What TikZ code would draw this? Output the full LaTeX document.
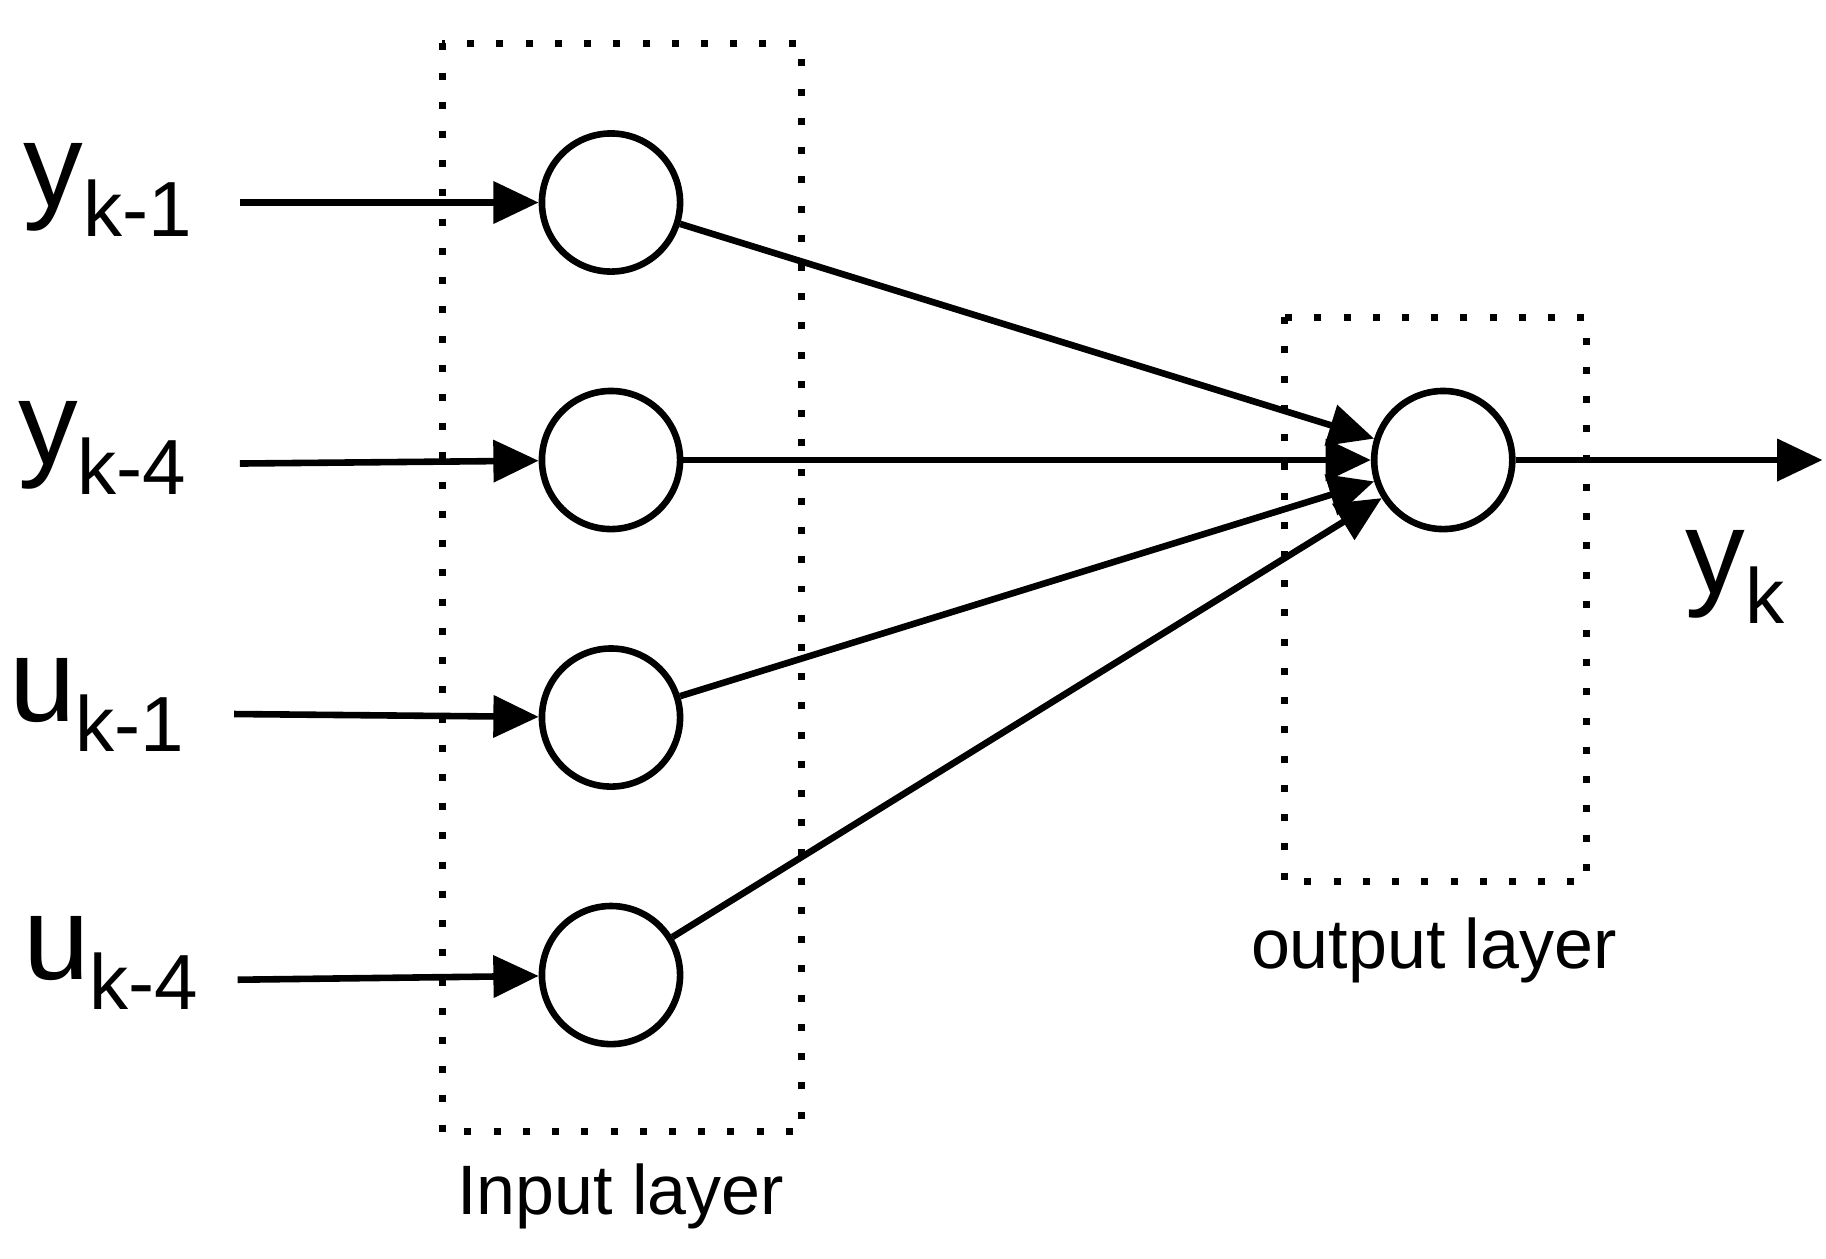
\documentclass[tikz,border=0pt]{standalone}
\usepackage{fontspec}
\setmainfont{Liberation Sans}
\usetikzlibrary{arrows.meta}
\begin{document}
\begin{tikzpicture}[x=0.01cm,y=-0.01cm,
  neuron/.style={circle,draw,line width=1.6pt,minimum size=118*0.01cm,inner sep=0pt},
  conn/.style={line width=1.6pt,-{Triangle[length=11pt,width=10pt]}},
  box/.style={line width=1.7pt,dash pattern=on 1.7pt off 5.4pt},
  lab/.style={font=\fontsize{29pt}{29pt}\selectfont,inner sep=0pt},
  layercap/.style={font=\fontsize{17pt}{17pt}\selectfont,inner sep=0pt}]
\useasboundingbox (0,0) rectangle (1560,1075);
\newcommand{\sublab}[2]{#1\raisebox{-0.25em}{\fontsize{19pt}{19pt}\selectfont #2}}
\draw[box] (378,37) rectangle (685,967);
\draw[box] (1097,271) rectangle (1355,753);
\foreach \n/\y in {a/173,b/393,c/613,d/833}{\node[neuron] (\n) at (522,\y) {};}
\node[neuron] (o) at (1233,393) {};
\node[lab,anchor=east] (la) at (165,162) {\sublab{y}{k-1}};
\node[lab,anchor=east] (lb) at (160,383) {\sublab{y}{k-4}};
\node[lab,anchor=east] (lc) at (158,602) {\sublab{u}{k-1}};
\node[lab,anchor=east] (ld) at (170,823) {\sublab{u}{k-4}};
\coordinate (sa) at (205,173);
\coordinate (sb) at (205,396);
\coordinate (sc) at (200,610);
\coordinate (sd) at (203,837);
\coordinate (e) at (1557,393);
\draw[conn] (sa) -- (a);
\draw[conn] (sb) -- (b);
\draw[conn] (sc) -- (c);
\draw[conn] (sd) -- (d);
\foreach \n in {a,b,c,d}{\draw[conn] (\n) -- (o);}
\draw[conn] (o) -- (e);
\node[lab,anchor=center] (lk) at (1482,493) {\sublab{y}{k}};
\node[layercap] (il) at (530,1022) {Input layer};
\node[layercap] (ol) at (1225,812) {output layer};
\end{tikzpicture}
\end{document}
